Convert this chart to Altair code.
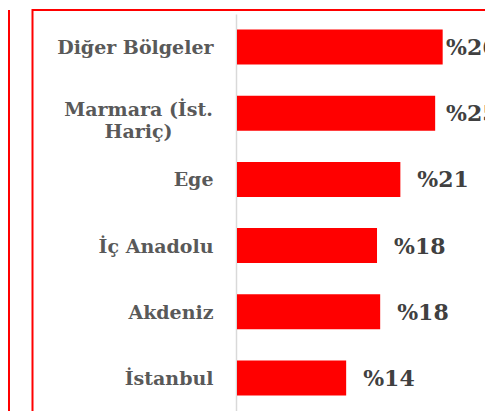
import altair as alt
import pandas as pd

regions = ["Diğer Bölgeler", "Marmara (İst. Hariç)", "Ege", "İç Anadolu", "Akdeniz", "İstanbul"]
shares = [26.0, 25.05, 20.65, 17.7, 18.1, 13.8]
share_labels = ["%26", "%25", "%21", "%18", "%18", "%14"]

df = pd.DataFrame({"region": regions, "share": shares, "label": share_labels})

W, H = 248, 397
XMAX = 31.35
RED = "#FF0000"
FONT = "DejaVu Serif"

is_marmara = "indexof(datum.value, 'Marmara') == 0"

xscale = alt.Scale(domain=[0, XMAX], nice=False, zero=True)

y_enc = alt.Y(
    "region:N",
    sort=regions,
    scale=alt.Scale(paddingInner=0.47, paddingOuter=0.235),
    axis=alt.Axis(
        title=None,
        ticks=False,
        tickSize=0,
        grid=False,
        domain=True,
        domainColor="#d9d9d9",
        domainWidth=1.5,
        offset=1,
        labelFont=FONT,
        labelFontWeight="bold",
        labelFontSize=19,
        labelColor="#595959",
        labelLimit=0,
        labelOverlap=False,
        labelBaseline="middle",
        labelLineHeight=21.5,
        labelExpr=f"{is_marmara} ? ['Marmara (İst.', 'Hariç)'] : datum.label",
        labelAlign={"condition": {"test": is_marmara, "value": "center"}, "value": "right"},
        labelPadding={"condition": {"test": is_marmara, "value": 98}, "value": 23},
        labelOffset={"condition": {"test": is_marmara, "value": -3}, "value": 1},
    ),
)

bars = alt.Chart(df).mark_bar(color=RED).encode(
    x=alt.X("share:Q", scale=xscale, axis=None),
    y=y_enc,
)

text = alt.Chart(df).transform_calculate(
    lx="min(datum.share + 2.15, 26.42)"
).mark_text(
    align="left", baseline="middle", font=FONT, fontWeight="bold",
    fontSize=22, color="#404040", dy=1,
).encode(
    x=alt.X("lx:Q", scale=xscale, axis=None),
    y=alt.Y("region:N", sort=regions),
    text="label:N",
)

frame = alt.Chart(alt.Data(values=[{}])).mark_rect(
    filled=False, stroke=RED, strokeWidth=2
).encode(
    x=alt.value(-204.5), x2=alt.value(W + 40),
    y=alt.value(-4), y2=alt.value(H + 40),
)

left_line = alt.Chart(alt.Data(values=[{}])).mark_rule(
    color=RED, strokeWidth=2
).encode(
    x=alt.value(-228), y=alt.value(-4), y2=alt.value(H + 40),
)

chart = alt.layer(frame, left_line, bars, text).properties(
    width=W,
    height=H,
    padding={"left": 229, "top": 6, "right": 0, "bottom": 0},
    autosize=alt.AutoSizeParams(type="none"),
    background="white",
).configure_view(stroke=None)

chart.save("out.html", embed_options={"renderer": "svg", "actions": False})
